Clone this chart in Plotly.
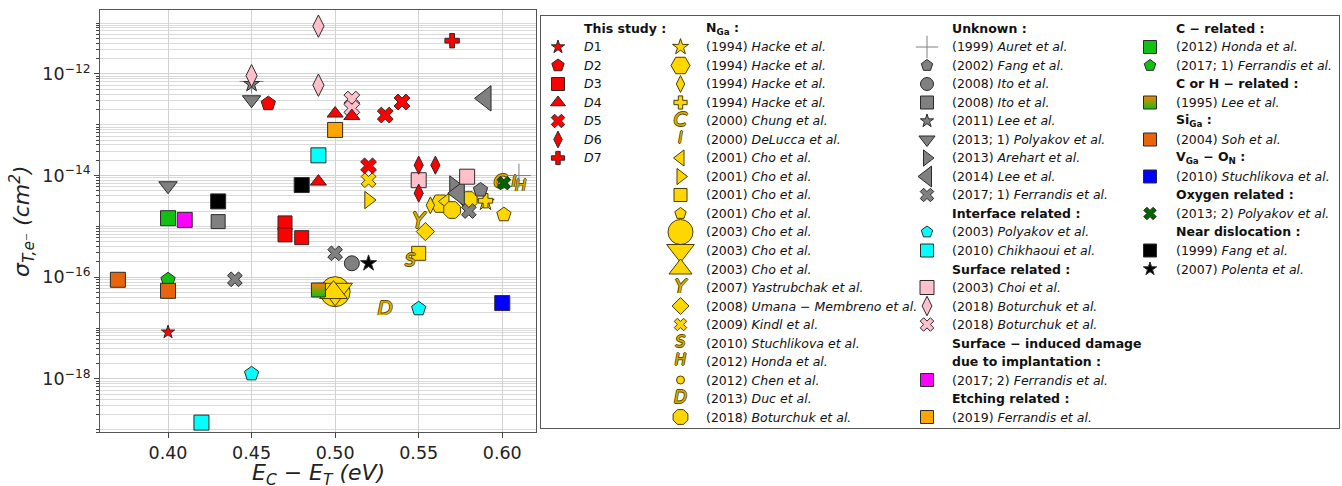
import plotly.graph_objects as go

FONT = "DejaVu Sans"

# ===================== DATA  (E_C - E_T in eV, sigma in cm^2) =====================
# ---- This study
D1_E = [0.40];                D1_sig = [8.3e-18]
D2_E = [0.46];                D2_sig = [2.6e-13]
D3_E = [0.47, 0.47, 0.48];    D3_sig = [1.17e-15, 6.8e-16, 6.0e-16]
D4_E = [0.50, 0.51, 0.49];    D4_sig = [1.66e-13, 1.48e-13, 7.6e-15]
D5_E = [0.53, 0.54, 0.52];    D5_sig = [1.55e-13, 2.8e-13, 1.55e-14]
D6_E = [0.55, 0.56, 0.55];    D6_sig = [1.6e-14, 1.6e-14, 4.5e-15]
D7_E = [0.57];                D7_sig = [4.5e-12]
# ---- N_Ga
hacke_star_E = [0.59];        hacke_star_sig = [3.0e-15]
hacke_hex_E = [0.563];        hacke_hex_sig = [2.8e-15]
hacke_dia_E = [0.557];        hacke_dia_sig = [2.6e-15]
hacke_plus_E = [0.59];        hacke_plus_sig = [3.2e-15]
chung_E = [0.599];            chung_sig = [7.1e-15]
delucca_E = [0.607];          delucca_sig = [7.3e-15]
cho01_tl_E = [0.566];         cho01_tl_sig = [3.1e-15]
cho01_tr_E = [0.52];          cho01_tr_sig = [3.3e-15]
cho01_sq_E = [0.55];          cho01_sq_sig = [2.95e-16]
cho01_pe_E = [0.601];         cho01_pe_sig = [1.7e-15]
cho03_ci_E = [0.50];          cho03_ci_sig = [5.2e-17]
cho03_td_E = [0.50];          cho03_td_sig = [5.4e-17]
cho03_tu_E = [0.499];         cho03_tu_sig = [5.0e-17]
yastr_E = [0.55];             yastr_sig = [1.2e-15]
umana_E = [0.554];            umana_sig = [7.9e-16]
kindl_E = [0.52];             kindl_sig = [8.1e-15]
stuch_S_E = [0.545];          stuch_S_sig = [2.0e-16]
honda_H_E = [0.611];          honda_H_sig = [6.0e-15]
chen_E = [0.600];             chen_sig = [7.0e-15]
duc_E = [0.53];               duc_sig = [2.3e-17]
botur_oct_E = [0.570, 0.580]; botur_oct_sig = [2.1e-15, 3.3e-15]
# ---- Unknown
auret_E = [0.45, 0.61];       auret_sig = [7.1e-13, 1.0e-14]
fang02_E = [0.587];           fang02_sig = [5.2e-15]
ito_ci_E = [0.51];            ito_ci_sig = [1.88e-16]
ito_sq_E = [0.43];            ito_sq_sig = [1.24e-15]
lee11_E = [0.45];             lee11_sig = [6.3e-13]
poly13_1_E = [0.40, 0.45];    poly13_1_sig = [6.3e-15, 3.1e-13]
arehart_E = [0.571];          arehart_sig = [6.5e-15]
lee14_E = [0.590, 0.574];     lee14_sig = [3.3e-13, 4.5e-15]
ferr17_1x_E = [0.44, 0.50, 0.58];  ferr17_1x_sig = [9.1e-17, 2.95e-16, 2.0e-15]
# ---- Interface related
poly03_E = [0.45, 0.55];      poly03_sig = [1.26e-18, 2.4e-17]
chikh_E = [0.42, 0.49];       chikh_sig = [1.38e-19, 2.5e-14]
# ---- Surface related
choi_E = [0.55, 0.579];       choi_sig = [8.1e-15, 9.5e-15]
botur_dia_E = [0.49, 0.49, 0.45];  botur_dia_sig = [8.7e-12, 6.0e-13, 9.2e-13]
botur_x_E = [0.51, 0.51];     botur_x_sig = [3.2e-13, 2.1e-13]
# ---- Surface-induced damage due to implantation
ferr17_2_E = [0.41];          ferr17_2_sig = [1.34e-15]
# ---- Etching related
ferr19_E = [0.50];            ferr19_sig = [7.9e-14]
# ---- C-related
honda_sq_E = [0.40];          honda_sq_sig = [1.45e-15]
ferr17_1p_E = [0.40];         ferr17_1p_sig = [8.9e-17]
# ---- C or H related
lee95_E = [0.49];             lee95_sig = [5.6e-17]
# ---- Si_Ga
soh_E = [0.37, 0.40];         soh_sig = [8.9e-17, 5.4e-17]
# ---- V_Ga - O_N
stuch_b_E = [0.60];           stuch_b_sig = [3.1e-17]
# ---- Oxygen related
poly13_2_E = [0.601];         poly13_2_sig = [7.1e-15]
# ---- Near dislocation
fang99_E = [0.43, 0.48];      fang99_sig = [3.1e-15, 6.5e-15]
polenta_E = [0.52];           polenta_sig = [1.88e-16]

X_TICKS = [0.40, 0.45, 0.50, 0.55, 0.60]
Y_MAJOR_EXP = [-18, -16, -14, -12]

# ===================== STYLES =====================
RED = "#FF0000"; GOLD = "#FFD700"; GRAY = "#808080"; EDGE = "#2a2a2a"; GEDGE = "#4a3e00"
LETTER = "#D4AE00"
LETTER_EDGE = "#5a4800"

def S(E, s, label, col, row, sym, ps, ls, fill, edge=EDGE, z=2):
    return dict(E=E, s=s, label=label, col=col, row=row, sym=sym, ps=ps, ls=ls,
                fill=fill, edge=edge, z=z)

SERIES = [
    S(D1_E, D1_sig, "<i>D</i>1", 0, 1, "star", 10, 10, RED, z=4),
    S(D2_E, D2_sig, "<i>D</i>2", 0, 2, "pentagon", 15, 13, RED, z=4),
    S(D3_E, D3_sig, "<i>D</i>3", 0, 3, "square", 14, 13, RED, z=4),
    S(D4_E, D4_sig, "<i>D</i>4", 0, 4, "triangle-up", 14, 13, RED, z=4),
    S(D5_E, D5_sig, "<i>D</i>5", 0, 5, "x", 14, 12, RED, z=4),
    S(D6_E, D6_sig, "<i>D</i>6", 0, 6, "diamond-tall", 13, 12, RED, z=4),
    S(D7_E, D7_sig, "<i>D</i>7", 0, 7, "cross", 12, 11, RED, z=4),

    S(hacke_star_E, hacke_star_sig, "(1994) <i>Hacke et al.</i>", 1, 1, "star", 13, 12, GOLD, GEDGE, 1),
    S(hacke_hex_E, hacke_hex_sig, "(1994) <i>Hacke et al.</i>", 1, 2, "hexagon2", 20, 19, GOLD, GEDGE, 1),
    S(hacke_dia_E, hacke_dia_sig, "(1994) <i>Hacke et al.</i>", 1, 3, "diamond-tall", 12, 12, GOLD, GEDGE, 1),
    S(hacke_plus_E, hacke_plus_sig, "(1994) <i>Hacke et al.</i>", 1, 4, "cross", 12, 11, GOLD, GEDGE, 1),
    S(chung_E, chung_sig, "(2000) <i>Chung et al.</i>", 1, 5, "text:C", 20, 20, GOLD, GEDGE, 1),
    S(delucca_E, delucca_sig, "(2000) <i>DeLucca et al.</i>", 1, 6, "text:I", 16, 15, GOLD, GEDGE, 1),
    S(cho01_tl_E, cho01_tl_sig, "(2001) <i>Cho et al.</i>", 1, 7, "triangle-left", 14, 14, GOLD, GEDGE, 1),
    S(cho01_tr_E, cho01_tr_sig, "(2001) <i>Cho et al.</i>", 1, 8, "triangle-right", 15, 14, GOLD, GEDGE, 1),
    S(cho01_sq_E, cho01_sq_sig, "(2001) <i>Cho et al.</i>", 1, 9, "square", 14, 13, GOLD, GEDGE, 1),
    S(cho01_pe_E, cho01_pe_sig, "(2001) <i>Cho et al.</i>", 1, 10, "pentagon", 15, 12, GOLD, GEDGE, 1),
    S(cho03_ci_E, cho03_ci_sig, "(2003) <i>Cho et al.</i>", 1, 11, "circle", 30, 25, GOLD, GEDGE, 1),
    S(cho03_td_E, cho03_td_sig, "(2003) <i>Cho et al.</i>", 1, 12, "triangle-down", 30, 24, GOLD, GEDGE, 1),
    S(cho03_tu_E, cho03_tu_sig, "(2003) <i>Cho et al.</i>", 1, 13, "triangle-up", 24, 20, GOLD, GEDGE, 1),
    S(yastr_E, yastr_sig, "(2007) <i>Yastrubchak et al.</i>", 1, 14, "text:Y", 22, 20, GOLD, GEDGE, 1),
    S(umana_E, umana_sig, "(2008) <i>Umana − Membreno et al.</i>", 1, 15, "diamond", 14, 13, GOLD, GEDGE, 1),
    S(kindl_E, kindl_sig, "(2009) <i>Kindl et al.</i>", 1, 16, "x", 13, 11, GOLD, GEDGE, 1),
    S(stuch_S_E, stuch_S_sig, "(2010) <i>Stuchlikova et al.</i>", 1, 17, "text:S", 17, 16, GOLD, GEDGE, 1),
    S(honda_H_E, honda_H_sig, "(2012) <i>Honda et al.</i>", 1, 18, "text:H", 15, 15, GOLD, GEDGE, 1),
    S(chen_E, chen_sig, "(2012) <i>Chen et al.</i>", 1, 19, "circle", 8, 8, GOLD, GEDGE, 1),
    S(duc_E, duc_sig, "(2013) <i>Duc et al.</i>", 1, 20, "text:D", 20, 17, GOLD, GEDGE, 1),
    S(botur_oct_E, botur_oct_sig, "(2018) <i>Boturchuk et al.</i>", 1, 21, "octagon", 18, 16, GOLD, GEDGE, 1),

    S(auret_E, auret_sig, "(1999) <i>Auret et al.</i>", 2, 1, "cross-thin", 17, 16, GRAY, GRAY, 2),
    S(fang02_E, fang02_sig, "(2002) <i>Fang et al.</i>", 2, 2, "pentagon", 15, 12, GRAY, z=2),
    S(ito_ci_E, ito_ci_sig, "(2008) <i>Ito et al.</i>", 2, 3, "circle", 15, 13, GRAY, z=2),
    S(ito_sq_E, ito_sq_sig, "(2008) <i>Ito et al.</i>", 2, 4, "square", 14, 13, GRAY, z=2),
    S(lee11_E, lee11_sig, "(2011) <i>Lee et al.</i>", 2, 5, "star", 12, 10, GRAY, z=2),
    S(poly13_1_E, poly13_1_sig, "(2013; 1) <i>Polyakov et al.</i>", 2, 6, "triangle-down", 16, 14, GRAY, z=2),
    S(arehart_E, arehart_sig, "(2013) <i>Arehart et al.</i>", 2, 7, "triangle-right", 16, 14, GRAY, z=2),
    S(lee14_E, lee14_sig, "(2014) <i>Lee et al.</i>", 2, 8, "triangle-left", 22, 18, GRAY, z=2),
    S(ferr17_1x_E, ferr17_1x_sig, "(2017; 1) <i>Ferrandis et al.</i>", 2, 9, "x", 13, 12, GRAY, z=2),
    S(poly03_E, poly03_sig, "(2003) <i>Polyakov et al.</i>", 2, 11, "pentagon", 15, 12, "#00FFFF", z=2),
    S(chikh_E, chikh_sig, "(2010) <i>Chikhaoui et al.</i>", 2, 12, "square", 15, 13, "#00FFFF", z=2),
    S(choi_E, choi_sig, "(2003) <i>Choi et al.</i>", 2, 14, "square", 15, 14, "#FFC0CB", z=2),
    S(botur_dia_E, botur_dia_sig, "(2018) <i>Boturchuk et al.</i>", 2, 15, "diamond-tall", 16, 14, "#FFC0CB", z=2),
    S(botur_x_E, botur_x_sig, "(2018) <i>Boturchuk et al.</i>", 2, 16, "x", 14, 12, "#FFC0CB", z=2),
    S(ferr17_2_E, ferr17_2_sig, "(2017; 2) <i>Ferrandis et al.</i>", 2, 19, "square", 15, 13, "#FF00FF", z=2),
    S(ferr19_E, ferr19_sig, "(2019) <i>Ferrandis et al.</i>", 2, 21, "square", 15, 13, "#FFA500", z=2),

    S(honda_sq_E, honda_sq_sig, "(2012) <i>Honda et al.</i>", 3, 1, "square", 15, 13, "#11C011", z=3),
    S(ferr17_1p_E, ferr17_1p_sig, "(2017; 1) <i>Ferrandis et al.</i>", 3, 2, "pentagon", 15, 12, "#11C011", z=3),
    S(lee95_E, lee95_sig, "(1995) <i>Lee et al.</i>", 3, 4, "half", 14, 13, "#FF8000", z=3),
    S(soh_E, soh_sig, "(2004) <i>Soh et al.</i>", 3, 6, "square", 15, 13, "#E8650C", z=3),
    S(stuch_b_E, stuch_b_sig, "(2010) <i>Stuchlikova et al.</i>", 3, 8, "square", 15, 13, "#0000FF", z=3),
    S(poly13_2_E, poly13_2_sig, "(2013; 2) <i>Polyakov et al.</i>", 3, 10, "x", 12, 11, "#006400", z=3),
    S(fang99_E, fang99_sig, "(1999) <i>Fang et al.</i>", 3, 12, "square", 15, 13, "#000000", z=3),
    S(polenta_E, polenta_sig, "(2007) <i>Polenta et al.</i>", 3, 13, "star", 12, 10, "#000000", z=3),
]

HEADERS = [
    (0, 0, "This study :"),
    (1, 0, "N<sub>Ga</sub> :"),
    (2, 0, "Unknown :"), (2, 10, "Interface related :"), (2, 13, "Surface related :"),
    (2, 17, "Surface − induced damage"), (2, 18, "due to implantation :"),
    (2, 20, "Etching related :"),
    (3, 0, "C − related :"), (3, 3, "C or H − related :"), (3, 5, "Si<sub>Ga</sub> :"),
    (3, 7, "V<sub>Ga</sub> − O<sub>N</sub> :"), (3, 9, "Oxygen related :"),
    (3, 11, "Near dislocation :"),
]

# legend layout (pixel units of the legend panel)
COL_MARK_X = [558, 680.5, 927, 1150]
COL_TEXT_X = [582, 704, 950, 1174]
ROW0_Y, ROW_H = 28.5, 18.5

fig = go.Figure()

SHADOW = ", ".join(f"{dx}px {dy}px 0 {LETTER_EDGE}" for dx, dy in
                   [(0.8, 0), (-0.8, 0), (0, 0.8), (0, -0.8)])


def make_trace(E, s, st, size, xa, ya):
    sym = st["sym"]
    if sym.startswith("text:"):
        letter = sym[5:]
        return go.Scatter(
            x=E, y=s, mode="text", text=[letter] * len(E), xaxis=xa, yaxis=ya,
            textposition="middle center", cliponaxis=False, hoverinfo="skip",
            textfont=dict(family=FONT, size=size, color=LETTER, style="italic", shadow=SHADOW),
        )
    if sym == "half":
        return go.Scatter(
            x=E, y=s, mode="markers", xaxis=xa, yaxis=ya, cliponaxis=False, hoverinfo="skip",
            marker=dict(symbol="square", size=size, color=st["fill"],
                        gradient=dict(type="vertical", color="#11C011"),
                        line=dict(color=st["edge"], width=1)),
        )
    if sym == "cross-thin":
        return go.Scatter(
            x=E, y=s, mode="markers", xaxis=xa, yaxis=ya, cliponaxis=False, hoverinfo="skip",
            marker=dict(symbol="cross-thin-open", size=size, color=st["fill"],
                        line=dict(color=st["edge"], width=1)),
        )
    return go.Scatter(
        x=E, y=s, mode="markers", xaxis=xa, yaxis=ya, cliponaxis=False, hoverinfo="skip",
        marker=dict(symbol=sym, size=size, color=st["fill"],
                    line=dict(color=st["edge"], width=1)),
    )


# --- data points on main axes (drawing order by z)
for st in sorted(SERIES, key=lambda d: d["z"]):
    fig.add_trace(make_trace(st["E"], st["s"], st, st["ps"], "x", "y"))

W, H = 1342, 486
PLOT_L, PLOT_R, PLOT_T, PLOT_B = 100, 536, 10, 432.3

# --- legend panel
annotations = []
for st in SERIES:
    c, r = st["col"], st["row"]
    ly = ROW0_Y + ROW_H * r
    fig.add_trace(make_trace([COL_MARK_X[c]], [ly], st, st["ls"], "x2", "y2"))
    annotations.append(dict(x=COL_TEXT_X[c], y=ly, xref="x2", yref="y2", text=st["label"],
                            showarrow=False, xanchor="left", yanchor="middle",
                            font=dict(family=FONT, size=12.5, color="#111")))
for c, r, t in HEADERS:
    annotations.append(dict(x=COL_TEXT_X[c], y=ROW0_Y + ROW_H * r, xref="x2", yref="y2",
                            text="<b>" + t + "</b>", showarrow=False, xanchor="left",
                            yanchor="middle", font=dict(family=FONT, size=12.5, color="#111")))
# x-axis title, placed in paper space so it cannot push the margins
annotations.append(dict(x=(PLOT_L + PLOT_R) / 2 / W, y=1 - 474 / H, xref="paper", yref="paper",
                        text="<i>E<sub>C</sub> − E<sub>T</sub> (eV)</i>", showarrow=False,
                        xanchor="center", yanchor="middle",
                        font=dict(family=FONT, size=22, color="#222")))

# y ticks (log axis): major labels every 2 decades, minor grid at 1..9 x 10^n
minor_vals = []
for n in range(-20, -10):
    for k in range(1, 10):
        if k == 1 and n in Y_MAJOR_EXP:
            continue
        minor_vals.append(k * 10.0 ** n)

fig.update_layout(
    width=W, height=H, margin=dict(l=0, r=0, t=0, b=0, autoexpand=False),
    paper_bgcolor="white", plot_bgcolor="white", showlegend=False,
    font=dict(family=FONT, color="#222"),
    annotations=annotations,
    xaxis=dict(
        domain=[PLOT_L / W, PLOT_R / W], range=[0.3593, 0.6202], anchor="y",
        tickvals=X_TICKS, ticktext=[f"{v:.2f}" for v in X_TICKS],
        tickfont=dict(family=FONT, size=17.5, color="#222"),
        ticks="outside", ticklen=5, tickcolor="#444",
        showgrid=True, gridcolor="#d2d2d2", gridwidth=1, zeroline=False,
        showline=True, mirror=True, linecolor="#555", linewidth=1,
    ),
    yaxis=dict(
        type="log", domain=[1 - PLOT_B / H, 1 - PLOT_T / H], range=[-19.051, -10.743], anchor="x",
        tickvals=[10.0 ** e for e in Y_MAJOR_EXP],
        ticktext=[f"10<sup>−{-e}</sup>" for e in Y_MAJOR_EXP],
        tickfont=dict(family=FONT, size=17.5, color="#222"),
        ticks="outside", ticklen=5, tickcolor="#444",
        showgrid=True, gridcolor="#d2d2d2", gridwidth=1, zeroline=False,
        minor=dict(tickmode="array", tickvals=minor_vals, ticks="outside", ticklen=3,
                   tickcolor="#444", showgrid=True, gridcolor="#dadada", gridwidth=1),
        showline=True, mirror=True, linecolor="#555", linewidth=1,
        title=dict(text="<i>σ<sub>T,e⁻</sub> (cm<sup>2</sup>)</i>",
                   font=dict(family=FONT, size=22, color="#222"), standoff=6),
    ),
    xaxis2=dict(
        domain=[541 / W, 1339 / W], range=[541, 1339], anchor="y2",
        showgrid=False, zeroline=False, showticklabels=False, ticks="",
        showline=True, mirror=True, linecolor="#555", linewidth=1,
    ),
    yaxis2=dict(
        domain=[1 - 428 / H, 1 - 16 / H], range=[428, 16], anchor="x2",
        showgrid=False, zeroline=False, showticklabels=False, ticks="",
        showline=True, mirror=True, linecolor="#555", linewidth=1,
    ),
)

fig.write_html("out.html", config={"displayModeBar": False},
               post_script="document.body.style.margin='0px';document.body.style.overflow='hidden';")
